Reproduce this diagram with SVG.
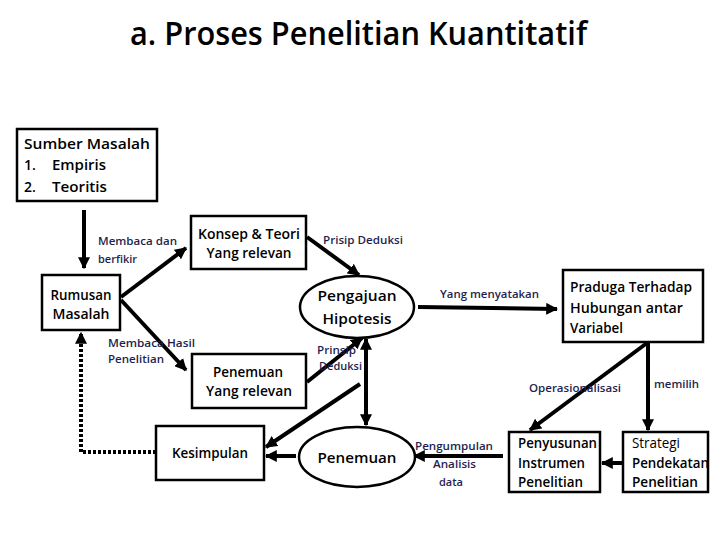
<svg xmlns="http://www.w3.org/2000/svg" width="720" height="540" viewBox="0 0 720 540">
<defs>
<style>
.box{fill:#fff;stroke:#000;stroke-width:2.5}
.t{font-family:"Open Sans","Noto Sans",sans-serif;font-size:14px;font-weight:600;fill:#000}
.n{font-weight:400}
.c{text-anchor:middle}
.lb{font-family:"Open Sans","Noto Sans",sans-serif;font-size:11.5px;font-weight:600;fill:#1f1f4f}
.ln{stroke:#000;stroke-width:4;fill:none}
.ttl{font-family:"Open Sans","Noto Sans",sans-serif;font-size:32px;font-weight:600;fill:#000}
</style>
<marker id="ah" viewBox="0 0 10 10" refX="9" refY="5" markerWidth="3" markerHeight="3" orient="auto-start-reverse" markerUnits="strokeWidth">
<path d="M0,0 L10,5 L0,10 z" fill="#000"/>
</marker>
</defs>
<rect width="720" height="540" fill="#fff"/>
<text class="ttl c" x="358.5" y="45" textLength="457" lengthAdjust="spacingAndGlyphs">a. Proses Penelitian Kuantitatif</text>

<g id="connectors">
<line class="ln" x1="84" y1="210" x2="84" y2="268" marker-end="url(#ah)"/>
<line class="ln" x1="121" y1="297" x2="186" y2="248" marker-end="url(#ah)"/>
<line class="ln" x1="121" y1="300" x2="186" y2="370" marker-end="url(#ah)"/>
<line class="ln" x1="307" y1="237" x2="359" y2="275" marker-end="url(#ah)"/>
<line class="ln" x1="418" y1="307" x2="557" y2="309" marker-end="url(#ah)"/>
<line class="ln" x1="648" y1="343" x2="648" y2="430" marker-end="url(#ah)"/>
<line class="ln" x1="647" y1="343" x2="530" y2="430" marker-end="url(#ah)"/>
<line class="ln" x1="623" y1="463" x2="602" y2="463" marker-end="url(#ah)"/>
<line class="ln" x1="503" y1="456" x2="414" y2="456" marker-end="url(#ah)"/>
<line class="ln" x1="366" y1="339" x2="366" y2="425" marker-start="url(#ah)" marker-end="url(#ah)"/>
<line class="ln" x1="307" y1="382" x2="362" y2="338" marker-end="url(#ah)"/>
<line class="ln" x1="360" y1="384" x2="266" y2="447" marker-end="url(#ah)"/>
<line class="ln" x1="296" y1="456" x2="266" y2="456" marker-end="url(#ah)"/>
<polyline class="ln" points="156,452 81,452 81,333" stroke-dasharray="3,2" marker-end="url(#ah)"/>
</g>

<g id="labels">
<text class="lb" x="98" y="245" textLength="79" lengthAdjust="spacingAndGlyphs">Membaca dan</text>
<text class="lb" x="98" y="263" textLength="39" lengthAdjust="spacingAndGlyphs">berfikir</text>
<text class="lb" x="108" y="347" textLength="87" lengthAdjust="spacingAndGlyphs">Membaca Hasil</text>
<text class="lb" x="108" y="363" textLength="56" lengthAdjust="spacingAndGlyphs">Penelitian</text>
<text class="lb" x="323" y="244" textLength="80" lengthAdjust="spacingAndGlyphs">Prisip Deduksi</text>
<text class="lb" x="440" y="298" textLength="99" lengthAdjust="spacingAndGlyphs">Yang menyatakan</text>
<text class="lb" x="317" y="354" textLength="39" lengthAdjust="spacingAndGlyphs">Prinsip</text>
<text class="lb" x="319" y="370" textLength="43" lengthAdjust="spacingAndGlyphs">Deduksi</text>
<text class="lb" x="529" y="392" textLength="92" lengthAdjust="spacingAndGlyphs">Operasionalisasi</text>
<text class="lb" x="654" y="388" textLength="45" lengthAdjust="spacingAndGlyphs">memilih</text>
<text class="lb" x="415" y="450" textLength="78" lengthAdjust="spacingAndGlyphs">Pengumpulan</text>
<text class="lb" x="433" y="468" textLength="43" lengthAdjust="spacingAndGlyphs">Analisis</text>
<text class="lb" x="439" y="486" textLength="24" lengthAdjust="spacingAndGlyphs">data</text>
</g>

<g id="sumber">
<rect class="box" x="17" y="129" width="140" height="72" stroke-width="3"/>
<text class="t" x="24" y="149" textLength="126" lengthAdjust="spacingAndGlyphs">Sumber Masalah</text>
<text class="t" x="24" y="170">1.</text><text class="t" x="52" y="170" textLength="54" lengthAdjust="spacingAndGlyphs">Empiris</text>
<text class="t" x="24" y="192">2.</text><text class="t" x="52" y="192" textLength="55" lengthAdjust="spacingAndGlyphs">Teoritis</text>
</g>
<g id="rumusan">
<rect class="box" x="42" y="275" width="78" height="55"/>
<text class="t c" x="81" y="300" textLength="61" lengthAdjust="spacingAndGlyphs">Rumusan</text>
<text class="t c" x="81" y="319" textLength="57" lengthAdjust="spacingAndGlyphs">Masalah</text>
</g>
<g id="konsep">
<rect class="box" x="191" y="216" width="115" height="53"/>
<text class="t c" x="249" y="239" textLength="102" lengthAdjust="spacingAndGlyphs">Konsep &amp; Teori</text>
<text class="t c" x="249" y="258" textLength="85" lengthAdjust="spacingAndGlyphs">Yang relevan</text>
</g>
<g id="penemuan-relevan">
<rect class="box" x="192" y="354" width="114" height="54"/>
<text class="t c" x="248" y="377" textLength="70" lengthAdjust="spacingAndGlyphs">Penemuan</text>
<text class="t c" x="249" y="396" textLength="86" lengthAdjust="spacingAndGlyphs">Yang relevan</text>
</g>
<g id="kesimpulan">
<rect class="box" x="156" y="426" width="108" height="54"/>
<text class="t c" x="210" y="458" textLength="76" lengthAdjust="spacingAndGlyphs">Kesimpulan</text>
</g>
<g id="pengajuan">
<ellipse class="box" cx="357" cy="307" rx="57" ry="31"/>
<text class="t c" x="357" y="301" textLength="79" lengthAdjust="spacingAndGlyphs">Pengajuan</text>
<text class="t c" x="357" y="324" textLength="69" lengthAdjust="spacingAndGlyphs">Hipotesis</text>
</g>
<g id="penemuan">
<ellipse class="box" cx="357" cy="457" rx="58" ry="30"/>
<text class="t c" x="357" y="463" textLength="79" lengthAdjust="spacingAndGlyphs">Penemuan</text>
</g>
<g id="praduga">
<rect class="box" x="563" y="270" width="140" height="72"/>
<text class="t" x="570" y="292" textLength="122" lengthAdjust="spacingAndGlyphs">Praduga Terhadap</text>
<text class="t" x="570" y="313" textLength="113" lengthAdjust="spacingAndGlyphs">Hubungan antar</text>
<text class="t" x="570" y="333" textLength="53" lengthAdjust="spacingAndGlyphs">Variabel</text>
</g>
<g id="penyusunan">
<rect class="box" x="509" y="432" width="91" height="60"/>
<text class="t" x="518" y="448" textLength="79" lengthAdjust="spacingAndGlyphs">Penyusunan</text>
<text class="t" x="518" y="468" textLength="67" lengthAdjust="spacingAndGlyphs">Instrumen</text>
<text class="t" x="518" y="487" textLength="65" lengthAdjust="spacingAndGlyphs">Penelitian</text>
</g>
<g id="strategi">
<rect class="box" x="623" y="432" width="85" height="60"/>
<text class="t n" x="632" y="448" textLength="48" lengthAdjust="spacingAndGlyphs">Strategi</text>
<text class="t" x="632" y="468" textLength="77" lengthAdjust="spacingAndGlyphs">Pendekatan</text>
<text class="t" x="632" y="487" textLength="66" lengthAdjust="spacingAndGlyphs">Penelitian</text>
</g>
</svg>
